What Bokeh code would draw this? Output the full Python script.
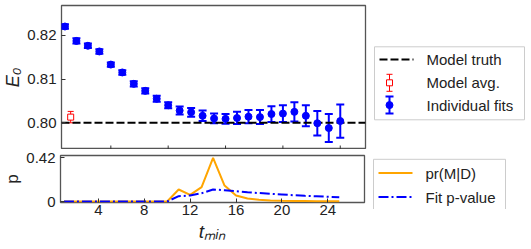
import math
from bokeh.plotting import figure
from bokeh.models import (ColumnDataSource, Whisker, TeeHead, Range1d, FixedTicker,
                          PrintfTickFormatter)
from bokeh.core.properties import value
from bokeh.layouts import column, row
from bokeh.embed import file_html
from bokeh.resources import INLINE

# ---------------- data ----------------
t_min = list(range(1, 26))
e0_fit = [0.8220, 0.8187, 0.8176, 0.8163, 0.8133, 0.8115, 0.8089, 0.8073, 0.8055, 0.8040,
          0.8028, 0.8024, 0.8016, 0.8010, 0.8009, 0.8011, 0.8014, 0.8013, 0.8020, 0.8021,
          0.8025, 0.8016, 0.7999, 0.7988, 0.8004]
e0_err = [0.0005, 0.0006, 0.0005, 0.0005, 0.0005, 0.0005, 0.0006, 0.0006, 0.0007, 0.0007,
          0.0009, 0.0010, 0.0012, 0.0011, 0.0011, 0.0014, 0.0015, 0.0016, 0.0018, 0.0019,
          0.0022, 0.0024, 0.0028, 0.0032, 0.0038]
avg_t = [1.5]
avg_e0 = [0.8013]
avg_err = [0.0013]
truth_e0 = 0.80
pr_md = [0, 0, 0, 0, 0, 0, 0, 0, 0, 0,
         0.115, 0.064, 0.137, 0.417, 0.153, 0.057, 0.029, 0.016, 0.010, 0.007,
         0.005, 0.004, 0.003, 0.003, 0.002]
fit_p = [0, 0, 0, 0, 0, 0, 0, 0, 0, 0,
         0.051, 0.057, 0.079, 0.115, 0.108, 0.098, 0.089, 0.081, 0.074, 0.067,
         0.060, 0.054, 0.050, 0.045, 0.041]
top_yticks = [0.80, 0.81, 0.82]
top_xticks = [5, 10, 15, 20, 25]
bot_xticks = [4, 8, 12, 16, 20, 24]
bot_yticks = [0, 0.42]
top_labels = ["Model truth", "Model avg.", "Individual fits"]
bot_labels = ["pr(M|D)", "Fit p-value"]
X_LO, X_HI = 0.7, 27.2
TOP_Y = (0.7939, 0.8268)
BOT_Y = (-0.0095, 0.44)

# ---------------- layout constants (pixels) ----------------
LEFT = 53
FW = 304
RB = 2
LEG_W = 159
TOP_T = 5
TOP_FH = 144
BOT_T = 6
BOT_FH = 47
FONT = "Liberation Sans"
FRAME = "#555555"
TXT = "#222222"
DASH_PV = "10 3 2 3"

# legend geometry (pixel units inside the legend canvases)
BOX_X = 7
TOP_BOX_W, TOP_BOX_H = 150, 73
BOT_BOX_W, BOT_BOX_H = 132, 53
TOP_ROWS = [12.6, 36.0, 58.3]
BOT_ROWS = [13.7, 37.7]
GLYPH_X0, GLYPH_X1, ICON_X, TEXT_X = 5, 39, 15, 52
BAR_HALF = 8.5


def style(p):
    p.outline_line_color = FRAME
    p.outline_line_width = 1.3
    p.xgrid.visible = False
    p.ygrid.visible = False
    p.background_fill_color = "white"
    p.border_fill_color = "white"
    for ax in list(p.xaxis) + list(p.yaxis):
        ax.major_tick_in = 4
        ax.major_tick_out = 0
        ax.minor_tick_in = 0
        ax.minor_tick_out = 0
        ax.major_tick_line_color = "#333333"
        ax.axis_line_color = None
        ax.major_label_text_font = FONT
        ax.major_label_text_font_size = "15px"
        ax.major_label_text_color = TXT
        ax.axis_label_text_font = FONT
        ax.axis_label_text_color = TXT


def legend_fig(height):
    f = figure(frame_width=LEG_W, frame_height=height, x_range=Range1d(0, LEG_W),
               y_range=Range1d(0, height), x_axis_location=None, y_axis_location=None,
               output_backend="svg", toolbar_location=None,
               min_border_left=0, min_border_right=0, min_border_top=0,
               min_border_bottom=0)
    f.outline_line_color = None
    f.xgrid.visible = False
    f.ygrid.visible = False
    f.background_fill_color = "white"
    f.border_fill_color = "white"
    return f


def legend_box(f, cy, w, h, rows, labels):
    top_y = cy + h / 2
    f.quad(left=BOX_X, right=BOX_X + w, bottom=cy - h / 2, top=top_y,
           fill_color="white", line_color="#cccccc", line_width=1)
    ys = [top_y - r for r in rows]
    f.text(x=[BOX_X + TEXT_X] * len(ys), y=ys, text=labels,
           text_font=value(FONT), text_font_size="15px", text_color=TXT,
           text_baseline="middle", text_align="left")
    return ys


def errbar_icon(f, y, color, lw, cap, marker, msize, mfill):
    x = BOX_X + ICON_X
    f.segment(x0=[x], y0=[y - BAR_HALF], x1=[x], y1=[y + BAR_HALF],
              line_color=color, line_width=lw)
    f.segment(x0=[x - cap / 2, x - cap / 2], y0=[y - BAR_HALF, y + BAR_HALF],
              x1=[x + cap / 2, x + cap / 2], y1=[y - BAR_HALF, y + BAR_HALF],
              line_color=color, line_width=lw)
    f.scatter(x=[x], y=[y], marker=marker, size=msize, fill_color=mfill,
              line_color=color, line_width=1)


# ---------------- top panel ----------------
top = figure(frame_width=FW, frame_height=TOP_FH, x_range=Range1d(X_LO, X_HI),
             y_range=Range1d(*TOP_Y), output_backend="svg", x_axis_location=None,
             toolbar_location=None, min_border_left=LEFT, min_border_right=RB,
             min_border_top=TOP_T, min_border_bottom=0)
style(top)

top.line(x=[X_LO, X_HI], y=[truth_e0, truth_e0], line_color="black",
         line_width=2, line_dash="8 3")

# inward x ticks on the bottom edge of the top panel (outer half clipped by the frame)
top.scatter(x=top_xticks, y=[TOP_Y[0]] * len(top_xticks), marker="dash",
            angle=math.pi / 2, size=8, line_color="#333333", line_width=1)

fit_src = ColumnDataSource(dict(
    t=t_min, e=e0_fit,
    lo=[v - e for v, e in zip(e0_fit, e0_err)],
    hi=[v + e for v, e in zip(e0_fit, e0_err)]))
top.add_layout(Whisker(source=fit_src, base="t", lower="lo", upper="hi",
                       dimension="height", line_color="blue", line_width=2,
                       lower_head=TeeHead(size=8, line_color="blue", line_width=2),
                       upper_head=TeeHead(size=8, line_color="blue", line_width=2)))
top.scatter("t", "e", source=fit_src, marker="circle", size=7,
            fill_color="blue", line_color="blue")

avg_src = ColumnDataSource(dict(
    t=avg_t, e=avg_e0,
    lo=[v - e for v, e in zip(avg_e0, avg_err)],
    hi=[v + e for v, e in zip(avg_e0, avg_err)]))
top.add_layout(Whisker(source=avg_src, base="t", lower="lo", upper="hi",
                       dimension="height", line_color="red", line_width=1,
                       lower_head=TeeHead(size=6, line_color="red", line_width=1),
                       upper_head=TeeHead(size=6, line_color="red", line_width=1)))
top.scatter("t", "e", source=avg_src, marker="square", size=6,
            fill_color="white", line_color="red", line_width=1)

top.yaxis.ticker = FixedTicker(ticks=top_yticks)
top.yaxis.formatter = PrintfTickFormatter(format="%.2f")
top.yaxis.major_label_standoff = 5
top.yaxis.axis_label = "E₀"
top.yaxis.axis_label_text_font_style = "italic"
top.yaxis.axis_label_text_font_size = "18px"
top.yaxis.axis_label_standoff = 1

# legend canvas for top panel
TL_H = TOP_T + TOP_FH
tl = legend_fig(TL_H)
ty = legend_box(tl, TL_H - (TOP_T + TOP_FH / 2) - 0.8, TOP_BOX_W, TOP_BOX_H,
                TOP_ROWS, top_labels)
tl.segment(x0=[BOX_X + GLYPH_X0], y0=[ty[0]], x1=[BOX_X + GLYPH_X1], y1=[ty[0]],
           line_color="black", line_width=2, line_dash="8 3")
errbar_icon(tl, ty[1], "red", 1, 6, "square", 6, "white")
errbar_icon(tl, ty[2], "blue", 2, 8, "circle", 7, "blue")

# ---------------- bottom panel ----------------
bot = figure(frame_width=FW, frame_height=BOT_FH, x_range=top.x_range,
             y_range=Range1d(*BOT_Y), output_backend="svg",
             toolbar_location=None, min_border_left=LEFT, min_border_right=RB,
             min_border_top=BOT_T, min_border_bottom=0)
style(bot)

bot.line(t_min, pr_md, line_color="orange", line_width=2)
bot.line(t_min, fit_p, line_color="blue", line_width=2, line_dash=DASH_PV)

bot.xaxis.ticker = FixedTicker(ticks=bot_xticks)
bot.xaxis.major_label_standoff = 2
bot.xaxis.axis_label = "tₘᵢₙ"
bot.xaxis.axis_label_text_font_style = "italic"
bot.xaxis.axis_label_text_font_size = "19px"
bot.xaxis.axis_label_standoff = 3
bot.yaxis.ticker = FixedTicker(ticks=bot_yticks)
bot.yaxis.major_label_overrides = {0: "0", 0.42: "0.42"}
bot.yaxis.major_label_standoff = 5
bot.yaxis.axis_label = "p"
bot.yaxis.axis_label_text_font_style = "normal"
bot.yaxis.axis_label_text_font_size = "17px"
bot.yaxis.axis_label_standoff = 1

BL_H = BOT_T + BOT_FH + 7
bl = legend_fig(BL_H)
by = legend_box(bl, BL_H - (BOT_T + BOT_FH / 2) - 0.8, BOT_BOX_W, BOT_BOX_H,
                BOT_ROWS, bot_labels)
bl.segment(x0=[BOX_X + GLYPH_X0], y0=[by[0]], x1=[BOX_X + GLYPH_X1], y1=[by[0]],
           line_color="orange", line_width=2)
bl.segment(x0=[BOX_X + GLYPH_X0], y0=[by[1]], x1=[BOX_X + GLYPH_X1], y1=[by[1]],
           line_color="blue", line_width=2, line_dash=DASH_PV)

layout = column(row(top, tl, spacing=0), row(bot, bl, spacing=0), spacing=0)
open("out.html", "w").write(file_html(layout, INLINE))
